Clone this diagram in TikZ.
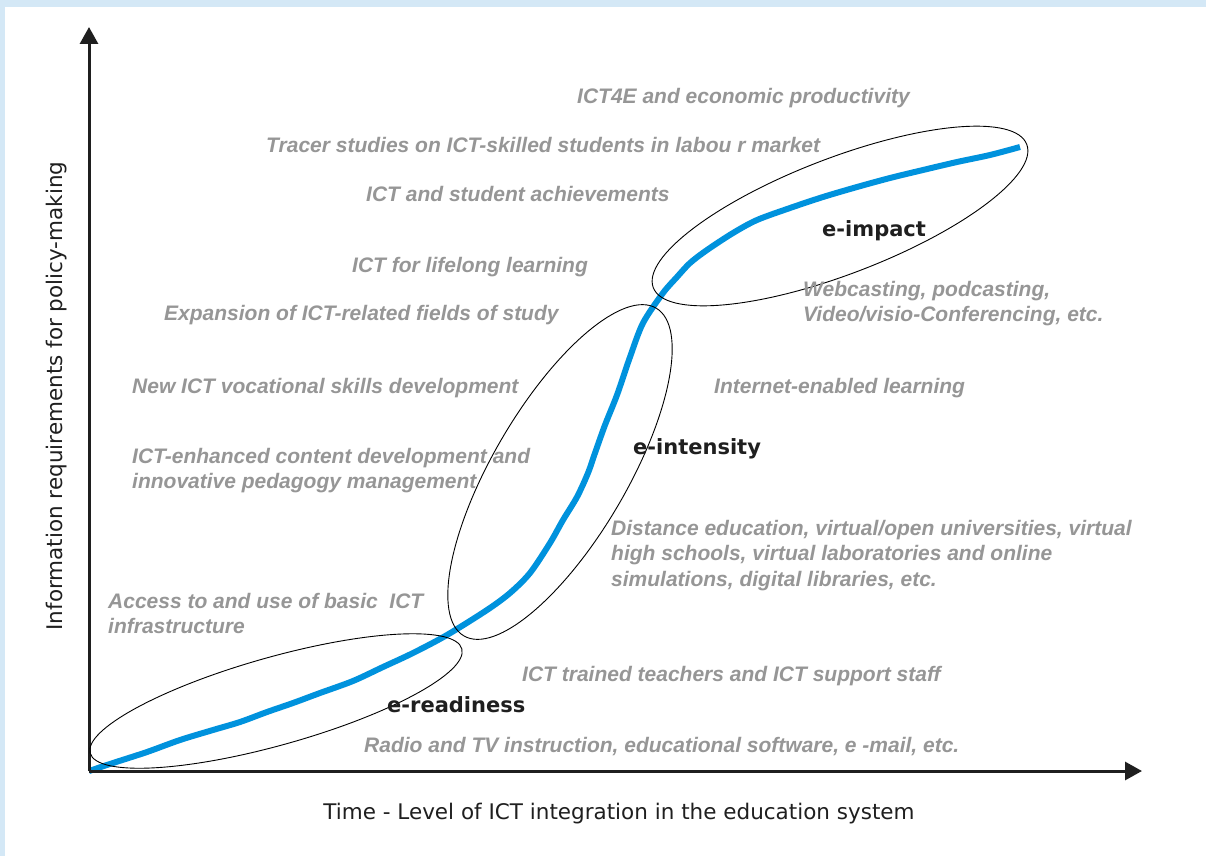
\documentclass[tikz,border=0pt]{standalone}
\usepackage{fontspec}
\setmainfont{Liberation Sans}
\newfontfamily\axisfont{DejaVu Sans}
\usetikzlibrary{arrows.meta,shapes.geometric}
\definecolor{framebg}{RGB}{212,232,246}
\definecolor{notegray}{RGB}{150,150,150}
\definecolor{curveblue}{RGB}{0,146,221}

\begin{document}
\begin{tikzpicture}[x=1pt, y=-1pt,
  note/.style={anchor=base west, inner sep=0, text=notegray, font=\fontsize{21}{25.5}\selectfont\bfseries\itshape},
  multinote/.style={note, anchor=north west, align=left},
  stage/.style={anchor=base west, inner sep=0, text=black!88, font=\axisfont\fontsize{21}{25}\selectfont\bfseries},
  ring/.style={draw, ellipse, inner sep=0, line width=0.9pt},
  axis/.style={line width=3pt, black!88, arrows=-{Triangle[length=17pt, width=18pt]}},
  axislabel/.style={inner sep=0, text=black!88, font=\axisfont\fontsize{21.5}{25}\selectfont}]
\useasboundingbox (0,0) rectangle (1206,856);
\fill[framebg] (0,0) rectangle (1206,856);
\fill[white] (5,7) rectangle (1206,856);
\coordinate (O) at (89,771);
\coordinate (ytip) at (89,27);
\coordinate (xtip) at (1142,771);
\draw[line width=6pt, curveblue, line join=round] plot[smooth, tension=0.5] coordinates {
  (89,771) (113,763) (147,752) (180,740) (213,730) (240,722) (267,712) (293,703)
  (320,693) (353,681) (383,667) (413,653) (447,635) (487,610) (510,593) (530,573)
  (550,543) (563,520) (577,497) (588,473) (595,453) (605,425) (617,395) (630,357)
  (643,323) (663,293) (677,277) (690,263) (707,250) (733,233) (757,220) (790,208)
  (823,197) (857,187) (890,178) (923,170) (957,162) (990,155) (1020,147)};
\draw[axis] (O) -- (ytip);
\draw[axis] (O) -- (xtip);
\node (readiness)[ring, minimum width=386pt, minimum height=88pt, rotate=15.7] at (276,701) {};
\node (intensity)[ring, minimum width=380pt, minimum height=134pt, rotate=59.6] at (560,472) {};
\node (impact)[ring, minimum width=400pt, minimum height=116pt, rotate=21] at (840,216) {};
\node (xlabel)[axislabel, anchor=base] at (619,819) {Time - Level of ICT integration in the education system};
\node (ylabel)[axislabel, anchor=base, rotate=90] at (62,396) {Information requirements for policy-making};
\node (impactlbl)[stage] at (822,236) {e-impact};
\node (intensitylbl)[stage] at (633,454) {e-intensity};
\node (readinesslbl)[stage] at (387,712) {e-readiness};
\node (productivity)[note] at (577,104) {ICT4E and economic productivity};
\node (tracer)[note] at (266,152) {Tracer studies on ICT-skilled students in labou r market};
\node (achieve)[note] at (366,201) {ICT and student achievements};
\node (lifelong)[note] at (352,272) {ICT for lifelong learning};
\node (fields)[note] at (164,320) {Expansion of ICT-related fields of study};
\node (vocational)[note] at (132,393) {New ICT vocational skills development};
\node (content)[multinote] at (132,448) {ICT-enhanced content development and\\innovative pedagogy management};
\node (access)[multinote] at (108,593) {Access to and use of basic\ \ ICT\\infrastructure};
\node (trained)[note] at (522,681) {ICT trained teachers and ICT support staff};
\node (radio)[note] at (364,752) {Radio and TV instruction, educational software, e -mail, etc.};
\node (distance)[multinote] at (611,520) {Distance education, virtual/open universities, virtual\\high schools, virtual laboratories and online\\simulations, digital libraries, etc.};
\node (internet)[note] at (714,393) {Internet-enabled learning};
\node (webcast)[multinote] at (803,281) {Webcasting, podcasting,\\Video/visio-Conferencing, etc.};
\end{tikzpicture}
\end{document}
